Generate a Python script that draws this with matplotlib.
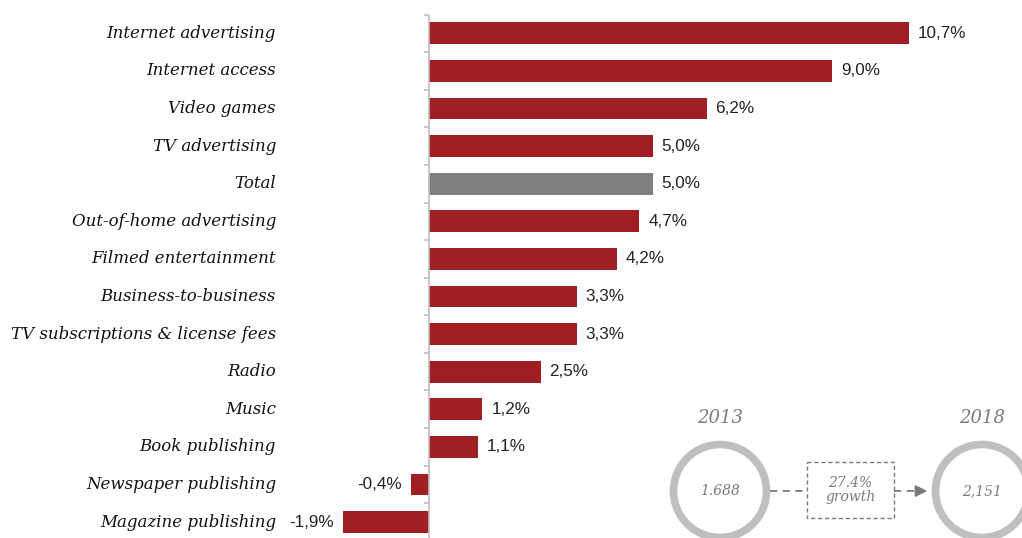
import matplotlib.pyplot as plt
from matplotlib.patches import Circle, Rectangle

# Données
categories = [
    "Internet advertising", "Internet access", "Video games", "TV advertising",
    "Total", "Out-of-home advertising", "Filmed entertainment",
    "Business-to-business", "TV subscriptions & license fees", "Radio",
    "Music", "Book publishing", "Newspaper publishing", "Magazine publishing",
]
growth = [10.7, 9.0, 6.2, 5.0, 5.0, 4.7, 4.2, 3.3, 3.3, 2.5, 1.2, 1.1, -0.4, -1.9]
value_labels = ["10,7%", "9,0%", "6,2%", "5,0%", "5,0%", "4,7%", "4,2%",
                "3,3%", "3,3%", "2,5%", "1,2%", "1,1%", "-0,4%", "-1,9%"]

year_start, year_end = "2013", "2018"
total_start, total_end = "1.688", "2,151"
total_growth = "27.4%\ngrowth"

RED = "#a01f22"
GREY_BAR = "#7f7f7f"
AXIS_GREY = "#bfbfbf"
TEXT_GREY = "#7a7a7a"

W, H = 1022, 538
fig = plt.figure(figsize=(W / 100, H / 100), dpi=100)

# axes : zéro à x=428 px, 44.86 px par point de %
x0_px, px_per = 428.5, 44.86
xmin, xmax = -2.5, 13.0
left_px = x0_px + xmin * px_per
width_px = (xmax - xmin) * px_per
top_px, step = 14.5, 37.6
bottom_px = top_px + step * len(categories)
ax = fig.add_axes([left_px / W, 1 - bottom_px / H, width_px / W, (bottom_px - top_px) / H])

n = len(categories)
ypos = list(range(n))
colors = [GREY_BAR if c == "Total" else RED for c in categories]
ax.barh(ypos, growth, height=0.58, color=colors, edgecolor="none")

ax.set_xlim(xmin, xmax)
ax.set_ylim(n - 0.5, -0.5)

for spine in ax.spines.values():
    spine.set_visible(False)
ax.axvline(0, color=AXIS_GREY, lw=1.2, zorder=3)
# petites graduations entre catégories
for k in range(n + 1):
    ax.plot([-0.1, 0], [k - 0.5, k - 0.5], color=AXIS_GREY, lw=1.2,
            solid_capstyle="butt", clip_on=False, zorder=3)

ax.set_xticks([])
ax.set_yticks([])

# étiquettes des catégories
for y, c in zip(ypos, categories):
    fig.text(276 / W, 1 - (top_px + step * (y + 0.5)) / H, c, ha="right", va="center",
             family="DejaVu Serif", style="italic", fontsize=12, color="#111111")

# valeurs
for y, v, lab in zip(ypos, growth, value_labels):
    if v >= 0:
        ax.text(v + 0.2, y, lab, ha="left", va="center", fontsize=12.3,
                family="Liberation Sans", color="#222222")
    else:
        ax.text(v - 0.2, y, lab, ha="right", va="center", fontsize=12.3,
                family="Liberation Sans", color="#222222")

# encart 2013 -> 2018
ov = fig.add_axes([0, 0, 1, 1], facecolor="none")
ov.set_xlim(0, W)
ov.set_ylim(H, 0)
ov.axis("off")

cy = 491
for cx, year, val in [(720, year_start, total_start), (982, year_end, total_end)]:
    ov.add_patch(Circle((cx, cy), 46.5, fill=False, edgecolor=AXIS_GREY, lw=5.5, clip_on=False))
    ov.text(cx, 418, year, ha="center", va="center", family="DejaVu Serif",
            style="italic", fontsize=13, color=TEXT_GREY)
    ov.text(cx, cy, val, ha="center", va="center", family="DejaVu Serif",
            style="italic", fontsize=10, color=TEXT_GREY)

ov.add_patch(Rectangle((807, 462), 87, 56, fill=False, edgecolor=TEXT_GREY,
                       lw=1, ls=(0, (3, 2))))
ov.text(850.5, 490, total_growth, ha="center", va="center", family="DejaVu Serif",
        style="italic", fontsize=10, color=TEXT_GREY, linespacing=1.0)
ov.plot([770, 807], [cy, cy], color=TEXT_GREY, lw=1.3, ls=(0, (4, 3)))
ov.plot([894, 921], [cy, cy], color=TEXT_GREY, lw=1.3, ls=(0, (4, 3)))
ov.annotate("", xy=(930, cy), xytext=(919, cy),
            arrowprops=dict(arrowstyle="-|>,head_length=0.7,head_width=0.35",
                            color=TEXT_GREY, lw=1.3))

fig.savefig("out.png", dpi=100)
